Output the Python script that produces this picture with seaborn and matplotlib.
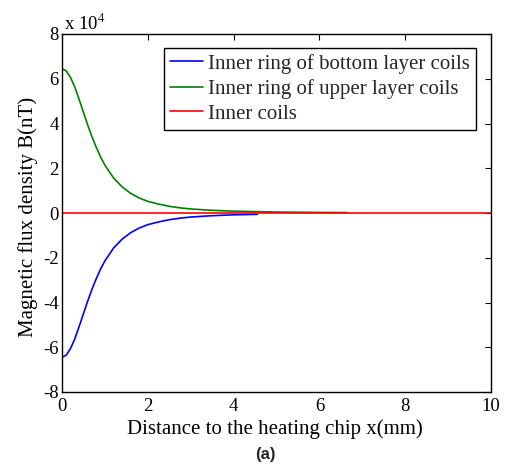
import matplotlib
matplotlib.use("Agg")
import matplotlib.pyplot as plt
import seaborn as sns
import pandas as pd

# Data (B in units of 1e4 nT)
x_bottom = [0.0, 0.1, 0.2, 0.3, 0.4, 0.5, 0.6, 0.7, 0.8, 0.9, 1.0, 1.2, 1.4, 1.6, 1.8, 2.0, 2.25, 2.5, 2.75, 3.0, 3.5, 4.0, 4.55]
B_bottom = [-6.45, -6.35, -6.05, -5.62, -5.07, -4.50, -3.93, -3.40, -2.93, -2.50, -2.14, -1.57, -1.17, -0.88, -0.67, -0.52, -0.40, -0.30, -0.23, -0.18, -0.12, -0.082, -0.06]
x_upper = [0.0, 0.1, 0.2, 0.3, 0.4, 0.5, 0.6, 0.7, 0.8, 0.9, 1.0, 1.2, 1.4, 1.6, 1.8, 2.0, 2.25, 2.5, 2.75, 3.0, 3.5, 4.0, 5.0, 6.0, 6.65]
B_upper = [6.45, 6.35, 6.05, 5.62, 5.07, 4.50, 3.93, 3.40, 2.93, 2.50, 2.14, 1.57, 1.17, 0.88, 0.67, 0.52, 0.40, 0.30, 0.23, 0.18, 0.12, 0.082, 0.043, 0.025, 0.019]
x_inner = [0.0, 10.0]
B_inner = [0.0, 0.0]

labels = ["Inner ring of bottom layer coils", "Inner ring of upper layer coils", "Inner coils"]
colors = ["#0000ff", "#008000", "#ff0000"]
y_ticks = [-8, -6, -4, -2, 0, 2, 4, 6, 8]
x_ticks = [0, 2, 4, 6, 8, 10]

df = pd.concat([
    pd.DataFrame({"x": x_bottom, "B": B_bottom, "series": labels[0]}),
    pd.DataFrame({"x": x_upper, "B": B_upper, "series": labels[1]}),
    pd.DataFrame({"x": x_inner, "B": B_inner, "series": labels[2]}),
], ignore_index=True)

sns.set_theme(style="white")
plt.rcParams["font.family"] = ["Liberation Serif", "DejaVu Serif"]
plt.rcParams["mathtext.fontset"] = "stix"

fig = plt.figure(figsize=(5.07, 4.66), dpi=100)
ax = fig.add_axes([62 / 507, 1 - 392 / 466, (491 - 62) / 507, (392 - 34) / 466])

sns.lineplot(data=df, x="x", y="B", hue="series", hue_order=labels,
             palette=dict(zip(labels, colors)), linewidth=1.2, ax=ax,
             sort=False, estimator=None)

ax.set_xlim(0, 10)
ax.set_ylim(-8, 8)
ax.set_xticks(x_ticks)
ax.set_yticks(y_ticks)
ax.set_xticklabels([str(t) for t in x_ticks])
ax.set_yticklabels([str(t) for t in y_ticks])
ax.tick_params(direction="in", length=4, width=0.8, top=True, right=True,
               labelsize=13.5, colors="black")
ax.tick_params(axis="x", pad=4.5)
ax.tick_params(axis="y", pad=2.5)
for s in ax.spines.values():
    s.set_color("black")
    s.set_linewidth(1.0)

ax.set_xlabel("Distance to the heating chip x(mm)", fontsize=15, color="black")
ax.set_ylabel("Magnetic flux density B(nT)", fontsize=15, color="black")
ax.xaxis.set_label_coords(0.497, -0.075)
ax.yaxis.set_label_coords(-0.055, 0.489)
ax.text(0.005, 1.0, r"x 10$^{4}$", transform=ax.transAxes, fontsize=13.5,
        ha="left", va="bottom", color="black")

leg = ax.legend(loc="upper right", bbox_to_anchor=(0.965, 0.962), fontsize=15,
                frameon=True, fancybox=False, edgecolor="black", framealpha=1,
                handlelength=1.55, handletextpad=0.25, borderpad=0.3,
                labelspacing=0.25, borderaxespad=0)
leg.get_frame().set_linewidth(1.0)
for line in leg.get_lines():
    line.set_linewidth(1.2)

fig.text(265 / 507, 1 - 454 / 466, "(a)", fontsize=12, fontweight="bold",
         family=["Liberation Sans", "DejaVu Sans"], ha="center", va="center")

fig.savefig("out.png", dpi=100, facecolor="white")
